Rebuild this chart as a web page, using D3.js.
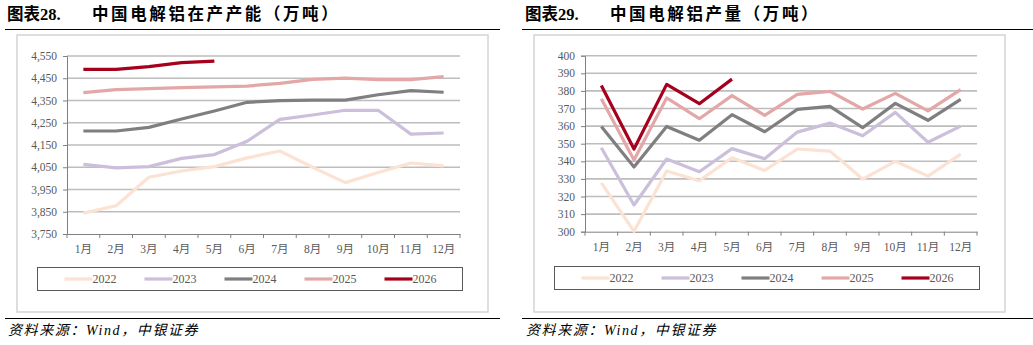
<!DOCTYPE html>
<html>
<head>
<meta charset="utf-8">
<script src="https://cdn.jsdelivr.net/npm/d3@7/dist/d3.min.js"></script>
<style>
body { margin: 0; background: #fff; }
svg { display: block; }
</style>
</head>
<body>
<script>
// dane
var months = ["1月","2月","3月","4月","5月","6月","7月","8月","9月","10月","11月","12月"];
var years = ["2022","2023","2024","2025","2026"];
var colors = ["#fbe2d2","#cbbfdb","#7f7f7f","#e3a7a7","#a6001c"];

// lewy wykres: w produkcji (capacity)
var capTicks = [3750,3850,3950,4050,4150,4250,4350,4450,4550];
var cap2022 = [3844,3877,4005,4033,4053,4092,4123,4050,3981,4026,4069,4056];
var cap2023 = [4063,4047,4053,4090,4107,4167,4265,4285,4306,4306,4199,4204];
var cap2024 = [4213,4213,4229,4267,4303,4342,4349,4352,4352,4376,4394,4387];
var cap2025 = [4385,4399,4403,4408,4411,4415,4427,4445,4451,4444,4444,4457];
var cap2026 = [4490,4490,4502,4520,4527];

// prawy wykres: produkcja
var outTicks = [300,310,320,330,340,350,360,370,380,390,400];
var out2022 = [327.8,300.2,334.5,329.0,342.0,334.8,347.0,345.8,329.9,340.0,331.6,344.1];
var out2023 = [347.7,315.2,341.3,334.1,347.2,341.5,356.6,361.7,354.5,367.8,350.8,360.0];
var out2024 = [359.8,336.7,359.8,352.0,366.5,356.8,369.5,371.2,359.1,372.9,363.3,375.2];
var out2025 = [375.6,340.7,376.0,364.2,377.3,366.1,378.0,379.7,369.7,378.6,368.6,380.7];
var out2026 = [383.1,347.0,383.7,372.7,386.7];

var svg = d3.select("body").append("svg")
	.attr("width", 1033)
	.attr("height", 345);

var serif = "'Liberation Serif','Noto Sans CJK SC',serif";

function drawPanel(p) {
	var g = svg.append("g");

	// tytul
	var t = g.append("text")
		.attr("x", p.titleX).attr("y", 20)
		.style("font-family", serif)
		.style("font-weight", "bold")
		.style("font-size", "16.5px")
		.attr("fill", "#000");
	t.append("tspan").text(p.label);
	t.append("tspan").attr("x", p.titleX + 85)
		.style("letter-spacing", "2.6px")
		.text(p.title);

	g.append("line")
		.attr("x1", p.ruleX1).attr("x2", p.ruleX2)
		.attr("y1", 29.5).attr("y2", 29.5)
		.attr("stroke", "#000").attr("stroke-width", 1.2);
	g.append("line")
		.attr("x1", p.ruleX1).attr("x2", p.ruleX2)
		.attr("y1", 318.5).attr("y2", 318.5)
		.attr("stroke", "#000").attr("stroke-width", 1.2);

	// ramka wykresu
	g.append("rect")
		.attr("x", p.boxX).attr("y", 35)
		.attr("width", 471).attr("height", 277)
		.attr("fill", "none")
		.attr("stroke", "#d4d4d4").attr("stroke-width", 1.5);

	var x = d3.scaleBand().domain(months).range([p.x0, p.x1]);
	var y = d3.scaleLinear().domain([p.ticks[0], p.ticks[p.ticks.length-1]]).range([p.yBottom, p.yTop]);

	// linie siatki
	g.append("g").selectAll("line")
		.data(p.ticks.slice(1))
		.enter().append("line")
		.attr("x1", p.x0).attr("x2", p.x1)
		.attr("y1", function(d) { return y(d); })
		.attr("y2", function(d) { return y(d); })
		.attr("stroke", "#bdbdbd").attr("stroke-width", 1.6);

	// os Y
	var yAxis = g.append("g")
		.attr("transform", "translate(" + p.x0 + ",0)")
		.call(d3.axisLeft(y).tickValues(p.ticks).tickSize(4).tickPadding(6).tickFormat(d3.format(",")));
	yAxis.select(".domain").attr("stroke", "#808080");
	yAxis.selectAll(".tick line").attr("stroke", "#808080");
	yAxis.selectAll("text")
		.style("font-family", serif).style("font-size", "11.5px").attr("fill", "#595959");

	// os X
	var xAxis = g.append("g")
		.attr("transform", "translate(0," + p.yBottom + ")")
		.call(d3.axisBottom(x).tickSize(0).tickPadding(11));
	xAxis.select(".domain").attr("stroke", "#808080");
	xAxis.selectAll("text")
		.style("font-family", serif).style("font-size", "11.5px").attr("fill", "#595959");
	var edges = months.map(function(m) { return x(m); }).concat([p.x1]);
	xAxis.selectAll(".edge").data(edges).enter().append("line")
		.attr("x1", function(d) { return d; }).attr("x2", function(d) { return d; })
		.attr("y1", 0).attr("y2", 4)
		.attr("stroke", "#808080");

	var line = d3.line()
		.x(function(d, i) { return x(months[i]) + x.bandwidth() / 2; })
		.y(function(d) { return y(d); });

	p.series.forEach(function(s, i) {
		g.append("path")
			.datum(s)
			.attr("d", line)
			.attr("fill", "none")
			.attr("stroke", colors[i])
			.attr("stroke-width", 3.2)
			.attr("stroke-linejoin", "round");
	});

	// legenda
	g.append("rect")
		.attr("x", p.legX).attr("y", p.legY)
		.attr("width", 425).attr("height", 23)
		.attr("fill", "#fff")
		.attr("stroke", "#595959").attr("stroke-width", 1);
	years.forEach(function(yr, i) {
		var lx = p.legX + 27 + i * 80;
		g.append("line")
			.attr("x1", lx).attr("x2", lx + 28)
			.attr("y1", p.legY + 11.5).attr("y2", p.legY + 11.5)
			.attr("stroke", colors[i]).attr("stroke-width", 3.2);
		g.append("text")
			.attr("x", lx + 28).attr("y", p.legY + 15.5)
			.style("font-family", serif).style("font-size", "12px")
			.attr("fill", "#595959")
			.text(yr);
	});

	// zrodlo
	g.append("text")
		.attr("x", p.titleX + 1).attr("y", 335)
		.style("font-family", serif)
		.style("font-style", "italic")
		.style("font-size", "14px")
		.style("letter-spacing", "1.6px")
		.attr("fill", "#000")
		.text("资料来源：Wind，中银证券");
}

drawPanel({
	label: "图表28.", title: "中国电解铝在产产能（万吨）",
	titleX: 7, ruleX1: 5, ruleX2: 500, boxX: 17,
	x0: 67, x1: 460, yTop: 56, yBottom: 234,
	ticks: capTicks,
	series: [cap2022, cap2023, cap2024, cap2025, cap2026],
	legX: 37.5, legY: 267.5
});

drawPanel({
	label: "图表29.", title: "中国电解铝产量（万吨）",
	titleX: 525, ruleX1: 522, ruleX2: 1033, boxX: 534,
	x0: 585, x1: 977, yTop: 55.7, yBottom: 231.7,
	ticks: outTicks,
	series: [out2022, out2023, out2024, out2025, out2026],
	legX: 554.5, legY: 266.5
});
</script>
</body>
</html>
